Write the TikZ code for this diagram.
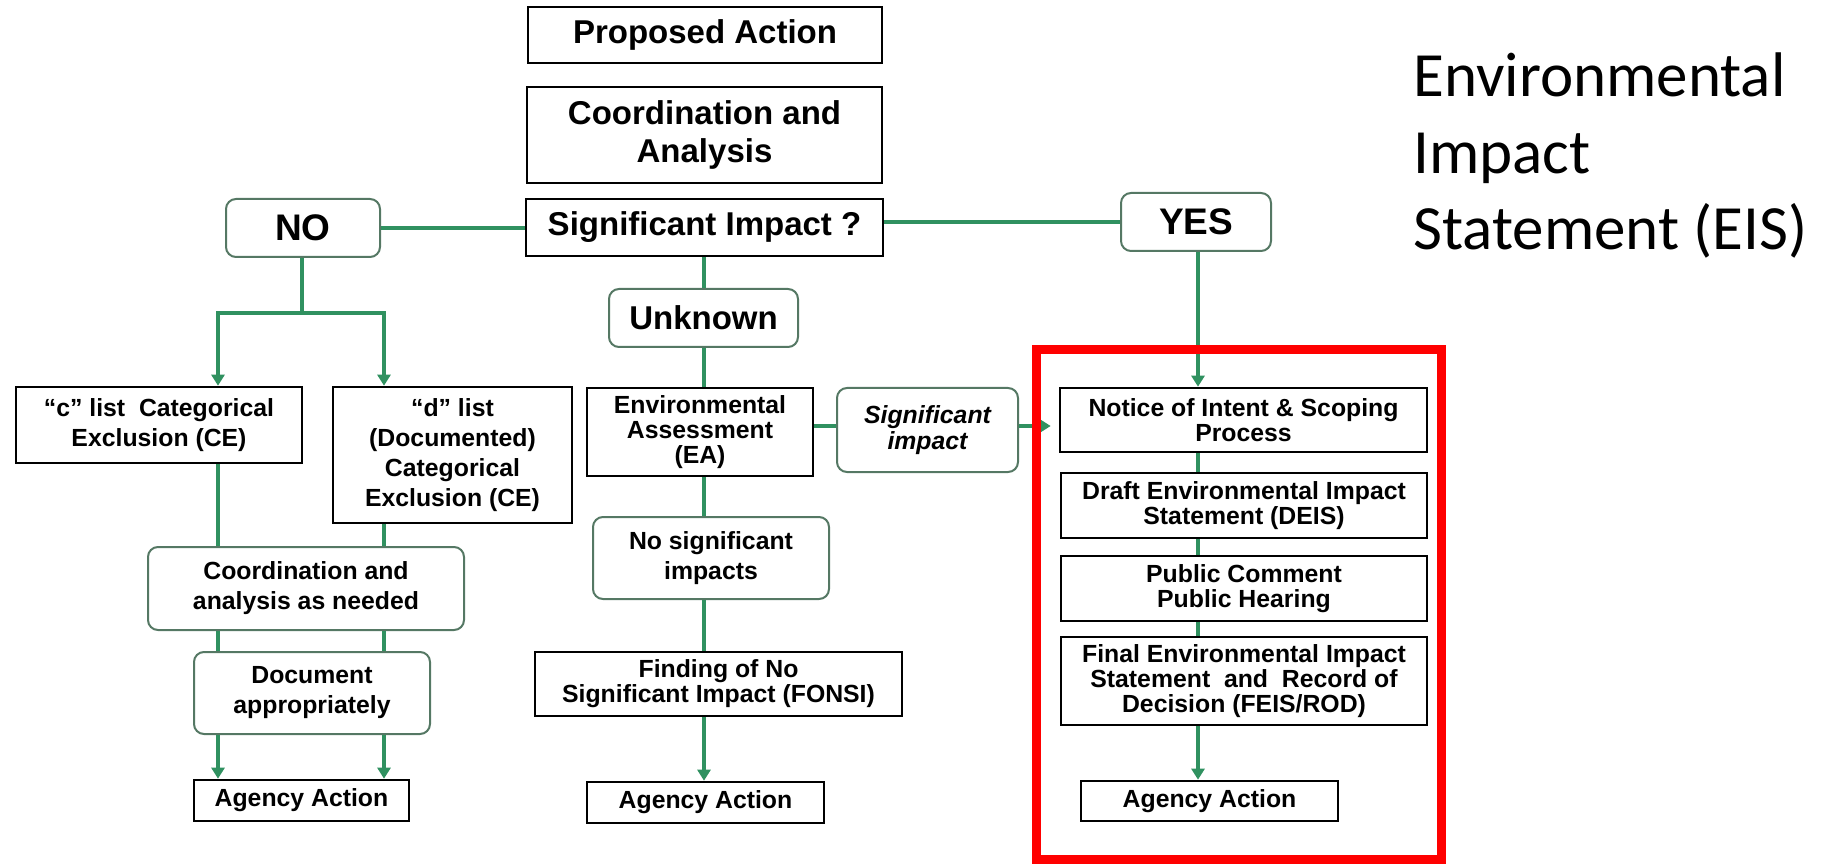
\documentclass[tikz,border=0pt]{standalone}
\usepackage{fontspec}
\newfontfamily\boxfont{Liberation Sans}
\newfontfamily\titlefont{Carlito}
\usetikzlibrary{arrows.meta}
\definecolor{flowgreen}{RGB}{48,145,96}
\definecolor{rndedge}{RGB}{85,120,100}
\definecolor{eisred}{RGB}{255,0,0}
\newcommand\fTop{\boxfont\bfseries\fontsize{16.5}{19}\selectfont}
\newcommand\fBig{\boxfont\bfseries\fontsize{18.5}{21}\selectfont}
\newcommand\fLow{\boxfont\bfseries\fontsize{12.4}{12.5}\selectfont}
\newcommand\fLowL{\boxfont\bfseries\fontsize{12.4}{15}\selectfont}
\newcommand\fLowI{\boxfont\bfseries\itshape\fontsize{12.4}{13}\selectfont}
\newcommand\fTitle{\titlefont\fontsize{31.5}{38}\selectfont}
\begin{document}
\begin{tikzpicture}[x=0.5pt,y=-0.5pt,
  sz/.style 2 args={minimum width=#1*0.5pt, minimum height=#2*0.5pt},
  rbox/.style={draw=black, line width=1.3pt, fill=white, inner sep=0pt, align=center, font=\fLow},
  rnd/.style={draw=rndedge, line width=1pt, rounded corners=5pt, fill=white, inner sep=0pt, align=center, font=\fLowL},
  flow/.style={draw=flowgreen, line width=1.8pt},
  arr/.style={flow, -{Triangle[length=5.5pt,width=6.5pt]}},
  ttl/.style={anchor=base west, inner sep=0pt, font=\fTitle}]
\useasboundingbox (0,0) rectangle (1834,865);

% nodes
\node[rbox, sz={354}{56}, font=\fTop] (pa) at (705,35) {Proposed Action};
\node[rbox, sz={355}{96}, font=\fTop] (ca) at (704.5,135) {Coordination and\\Analysis};
\node[rbox, sz={357}{57}, font=\fTop] (si) at (704.5,227.5) {Significant Impact ?};
\node[rnd, sz={154}{58}, font=\fBig] (no) at (303,228) {NO};
\node[rnd, sz={150}{58}, font=\fBig] (yes) at (1196,222) {YES};
\node[rnd, sz={189}{58}, font=\fTop] (unk) at (703.5,318) {Unknown};
\node[rbox, sz={286}{76}, font=\fLowL] (cl) at (159,425) {“c” list\ \ Categorical\\Exclusion (CE)};
\node[rbox, sz={239}{136}, font=\fLowL] (dl) at (452.5,455) {“d” list\\(Documented)\\Categorical\\Exclusion (CE)};
\node[rbox, sz={226}{88}] (ea) at (700,432) {Environmental\\Assessment\\(EA)};
\node[rnd, sz={181}{84}, font=\fLowI] (sig) at (927.5,430) {Significant\\impact};
\node[rbox, sz={367}{64}] (noi) at (1243.5,420) {Notice of Intent \& Scoping\\Process};
\node[rbox, sz={366}{65}] (deis) at (1244,505.5) {Draft Environmental Impact\\Statement (DEIS)};
\node[rbox, sz={366}{65}] (pub) at (1244,588.5) {Public Comment\\Public Hearing};
\node[rbox, sz={366}{88}] (feis) at (1244,681) {Final Environmental Impact\\Statement\ \ and\ \ Record of\\Decision (FEIS/ROD)};
\node[rbox, sz={257}{40}] (aar) at (1209.5,801) {Agency Action};
\node[rnd, sz={316}{83}] (can) at (306,588.5) {Coordination and\\analysis as needed};
\node[rnd, sz={236}{82}] (doc) at (312,693) {Document\\appropriately};
\node[rbox, sz={215}{41}] (aal) at (301.5,800.5) {Agency Action};
\node[rnd, sz={236}{82}] (nsi) at (711,558) {No significant\\impacts};
\node[rbox, sz={367}{64}] (fonsi) at (718.5,684) {Finding of No\\Significant Impact (FONSI)};
\node[rbox, sz={237}{41}] (aam) at (705.5,802.5) {Agency Action};

\node[ttl] (t1) at (1413,97) {Environmental};
\node[ttl] (t2) at (1413,174) {Impact};
\node[ttl] (t3) at (1413,250) {Statement (EIS)};

% column coordinates
\coordinate (lxa) at (218,0);
\coordinate (lxb) at (384,0);
\coordinate (mx) at (704,0);
\coordinate (rx) at (1198,0);
\coordinate (nbr) at (302,313);
\coordinate (hy) at (0,426);

% connectors
\draw[flow] (no.east) -- (no.east -| si.west);
\draw[flow] (yes.west -| si.east) -- (yes.west);
\draw[flow] (no.south -| nbr) -- (nbr);
\draw[arr] (nbr) -| (cl.north -| lxa);
\draw[arr] (nbr) -| (dl.north -| lxb);
\draw[flow] (cl.south -| lxa) -- (can.north -| lxa);
\draw[flow] (dl.south -| lxb) -- (can.north -| lxb);
\draw[flow] (can.south -| lxa) -- (doc.north -| lxa);
\draw[flow] (can.south -| lxb) -- (doc.north -| lxb);
\draw[arr] (doc.south -| lxa) -- (aal.north -| lxa);
\draw[arr] (doc.south -| lxb) -- (aal.north -| lxb);

\draw[flow] (si.south -| mx) -- (unk.north -| mx);
\draw[flow] (unk.south -| mx) -- (ea.north -| mx);
\draw[flow] (ea.south -| mx) -- (nsi.north -| mx);
\draw[flow] (nsi.south -| mx) -- (fonsi.north -| mx);
\draw[arr] (fonsi.south -| mx) -- (aam.north -| mx);

\draw[flow] (ea.east |- hy) -- (sig.west |- hy);
\draw[arr, shorten >=4pt] (sig.east |- hy) -- (noi.west |- hy);

\draw[arr] (yes.south -| rx) -- (noi.north -| rx);
\draw[flow] (noi.south -| rx) -- (deis.north -| rx);
\draw[flow] (deis.south -| rx) -- (pub.north -| rx);
\draw[flow] (pub.south -| rx) -- (feis.north -| rx);
\draw[arr] (feis.south -| rx) -- (aar.north -| rx);

% highlight frame
\draw[eisred, line width=4.5pt] (1036.5,349.5) rectangle (1441.5,859.5);
\end{tikzpicture}
\end{document}
